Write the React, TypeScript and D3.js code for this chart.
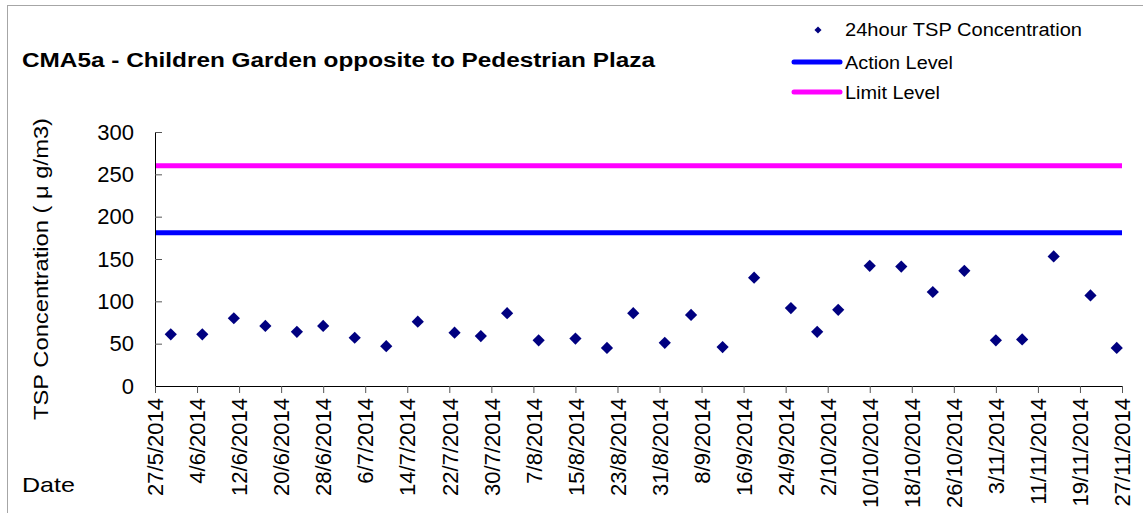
import { useEffect, useRef } from 'react';
import * as d3 from 'd3';

// 24-hour TSP samples (day/month, 2014) and concentrations in µg/m3
const sampleDates = [
  '30/5', '5/6', '11/6', '17/6', '23/6', '28/6', '4/7', '10/7', '16/7', '23/7', '28/7',
  '2/8', '8/8', '15/8', '21/8', '26/8', '1/9', '6/9', '12/9', '18/9', '25/9', '30/9',
  '4/10', '10/10', '16/10', '22/10', '28/10', '3/11', '8/11', '14/11', '21/11', '26/11',
];
const tspValues = [
  61, 61, 80, 71, 64, 71, 57, 47, 76, 63, 59,
  86, 54, 56, 45, 86, 51, 84, 46, 128, 92, 64,
  90, 142, 141, 111, 136, 54, 55, 153, 107, 45,
];
const actionLevel = 181;
const limitLevel = 260;

const xTickLabels = [
  '27/5/2014', '4/6/2014', '12/6/2014', '20/6/2014', '28/6/2014', '6/7/2014', '14/7/2014',
  '22/7/2014', '30/7/2014', '7/8/2014', '15/8/2014', '23/8/2014', '31/8/2014', '8/9/2014',
  '16/9/2014', '24/9/2014', '2/10/2014', '10/10/2014', '18/10/2014', '26/10/2014',
  '3/11/2014', '11/11/2014', '19/11/2014', '27/11/2014',
];
const yTicks = [0, 50, 100, 150, 200, 250, 300];

const W = 1143;
const H = 513;
const FONT = 'Arial, "Liberation Sans", sans-serif';

function parseDate(s: string): Date {
  const [d, m, y] = s.split('/').map(Number);
  return new Date(Date.UTC(y ?? 2014, m - 1, d));
}

export default function App() {
  const svgRef = useRef<SVGSVGElement>(null);

  useEffect(() => {
    if (!svgRef.current) return;
    const svg = d3.select(svgRef.current);
    svg.selectAll('*').remove();

    const M = { top: 132, right: 21, bottom: 127, left: 155 };
    const iW = W - M.left - M.right;
    const iH = H - M.top - M.bottom;

    // outer chart frame
    svg.append('rect')
      .attr('x', 7.5).attr('y', 5.5).attr('width', W + 20).attr('height', H + 20)
      .attr('fill', 'white').attr('stroke', '#a6a6a6').attr('stroke-width', 1);

    // the source chart's lettering is a bit wider than Arial, so stretch to measured widths
    const stretched = (xx: number, yy: number, size: number, len: number, str: string) =>
      svg.append('text')
        .attr('x', xx).attr('y', yy)
        .attr('font-family', FONT).attr('font-size', size)
        .attr('textLength', len).attr('lengthAdjust', 'spacingAndGlyphs')
        .text(str);

    stretched(22, 67, 20, 633, 'CMA5a - Children Garden opposite to Pedestrian Plaza')
      .attr('font-weight', 'bold');

    const root = svg.append('g').attr('transform', `translate(${M.left},${M.top})`);

    const tickDates = xTickLabels.map(parseDate);
    const x = d3.scaleUtc()
      .domain([tickDates[0], tickDates[tickDates.length - 1]])
      .range([0, iW]);
    const y = d3.scaleLinear().domain([0, 300]).range([iH, 0]);

    // ── Level lines ─────────────────────────────────────────────────────────
    const level = (v: number, color: string) =>
      root.append('line')
        .attr('x1', x(tickDates[0])).attr('x2', x(tickDates[tickDates.length - 1]))
        .attr('y1', y(v)).attr('y2', y(v))
        .attr('stroke', color).attr('stroke-width', 5);
    level(limitLevel, '#ff00ff');
    level(actionLevel, '#0000ff');

    // ── Y axis ──────────────────────────────────────────────────────────────
    root.append('g')
      .call(d3.axisLeft(y).tickValues(yTicks).tickSizeInner(-7).tickSizeOuter(0).tickPadding(21))
      .call(g => g.select('.domain').attr('stroke', '#000'))
      .call(g => g.selectAll('.tick line').attr('stroke', '#555'))
      .call(g => g.selectAll('.tick text')
        .attr('fill', '#000').attr('font-size', 22).attr('font-family', FONT));

    // ── X axis ──────────────────────────────────────────────────────────────
    root.append('g')
      .attr('transform', `translate(0,${iH})`)
      .call(d3.axisBottom(x).tickValues(tickDates).tickSizeInner(7).tickSizeOuter(0)
        .tickFormat((_, i) => xTickLabels[i]))
      .call(g => g.select('.domain').attr('stroke', '#000'))
      .call(g => g.selectAll('.tick line').attr('stroke', '#555'))
      .call(g => g.selectAll('.tick text')
        .attr('fill', '#000').attr('font-size', 22).attr('font-family', FONT)
        .attr('text-anchor', 'end')
        .attr('transform', 'rotate(-90)')
        .attr('x', -12).attr('y', 0).attr('dy', '0.35em'));

    // axis titles
    stretched(0, 0, 21, 302, 'TSP Concentration ( μ g/m3)')
      .attr('x', -151).attr('transform', `translate(48,${M.top + iH / 2 + 10}) rotate(-90)`);
    stretched(22, 492, 21, 53, 'Date');

    // ── Data points ─────────────────────────────────────────────────────────
    const diamond = d3.symbol().type(d3.symbolDiamond2).size(95);
    root.append('g').selectAll('path')
      .data(sampleDates.map((d, i) => ({ t: parseDate(`${d}/2014`), v: tspValues[i] })))
      .join('path')
      .attr('transform', d => `translate(${x(d.t)},${y(d.v)})`)
      .attr('d', diamond)
      .attr('fill', '#000080');

    // ── Legend ──────────────────────────────────────────────────────────────
    svg.append('path')
      .attr('transform', 'translate(818,30)')
      .attr('d', d3.symbol().type(d3.symbolDiamond2).size(32)())
      .attr('fill', '#000080');
    stretched(845, 36, 18, 237, '24hour TSP Concentration');
    const lgLine = (yy: number, color: string, label: string, len: number) => {
      svg.append('line')
        .attr('x1', 794).attr('x2', 840).attr('y1', yy).attr('y2', yy)
        .attr('stroke', color).attr('stroke-width', 5).attr('stroke-linecap', 'round');
      stretched(845, yy + 6.5, 18, len, label);
    };
    lgLine(62, '#0000ff', 'Action Level', 108);
    lgLine(92, '#ff00ff', 'Limit Level', 95);
  }, []);

  return (
    <div style={{ position: 'fixed', left: 0, top: 0 }}>
      <svg ref={svgRef} width={W} height={H} style={{ display: 'block', background: 'white' }} />
    </div>
  );
}
